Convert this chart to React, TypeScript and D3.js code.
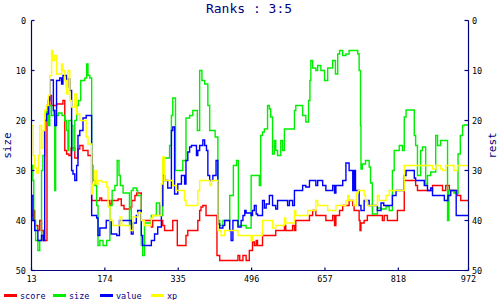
import React from "react";
import * as d3 from "d3";

const xTicks = [13, 174, 335, 496, 657, 818, 972];
const yTicks = [0, 10, 20, 30, 40, 50];
const seriesNames = ["score", "size", "value", "xp"];
const seriesColors = ["#ff0000", "#00ee00", "#0000ff", "#ffff00"];

const scoreData: [number, number][] = [[13,39],[17,38],[20,41],[27,42],[31,40],[35,42],[39,44],[47,17],[53,15],[57,17],[68,16.7],[82,16],[86,26],[90,26.7],[95,27],[100,25.5],[108,27.5],[115,25.7],[119,25],[126,26],[137,27],[145,36],[163,35.5],[167,36],[185,36.7],[189,36],[203,35.7],[210,37],[216,37.7],[229,37.3],[233,36],[240,35],[244,34.5],[254,40],[276,41.3],[279,40],[301,41],[305,42],[323,40],[333,45],[352,43],[356,42],[378,40],[382,38],[385,37.3],[389,37],[396,39],[420,47],[426,48],[466,47],[470,48],[477,47],[484,48],[491,46],[498,44.3],[502,45],[506,44],[509,45],[520,43],[549,42],[568,41],[571,42],[586,41],[590,42],[593,40],[623,39],[630,38],[637,39],[659,40],[674,39],[678,41],[681,39],[689,38],[696,37],[710,36],[718,37],[721,38],[732,40],[734,42],[736,40.5],[743,40],[750,39],[783,40],[787,39],[794,40],[816,38],[831,32],[856,33],[860,34],[893,33],[915,34],[922,33],[930,34],[948,35],[955,36],[972,36]];

const sizeData: [number, number][] = [[13,29],[16,32],[18,40],[22,44],[27,46],[31,44],[35,30],[38,27],[42,20],[46,18],[50,21],[53,17],[57,19],[62,18],[64,34],[66,19],[72,18.5],[80,19],[86,20],[90,22],[93,26],[95,20],[101,21],[104,26],[108,20],[112,17],[116,16],[121,12],[130,11.5],[134,8.7],[137,11],[141,11.5],[145,29],[148,32],[152,33],[156,37],[159,45],[163,44],[170,45],[178,44],[185,37],[190,34],[196,33],[201,28],[205,31],[208,33],[214,34.5],[222,34.5],[228,41],[232,34],[236,33.5],[244,34],[246,35],[254,45],[257,47],[261,40.5],[276,39],[287,36.5],[294,39],[301,27.5],[316,25],[320,19],[323,15.5],[329,30],[338,30],[345,28],[352,19.5],[360,19],[367,18],[377,22],[382,10],[387,12],[393,12.7],[400,17],[404,22],[416,23.3],[422,40],[426,41],[433,40],[448,35],[456,29],[463,28],[467,41],[484,41.5],[495,31],[513,33],[516,23],[520,22.3],[524,21.7],[531,17],[535,17.7],[538,19.3],[542,26.7],[546,24],[549,26],[553,27],[560,24],[564,26],[568,21.7],[590,18],[593,17],[608,19],[615,20.3],[621,16],[624,12],[626,8],[630,9.5],[637,10],[641,9],[648,10],[656,12],[663,9.5],[674,8],[680,10.7],[685,6.7],[689,6],[696,7],[703,6.7],[710,6],[729,6.7],[732,10],[735,21],[736,29.7],[739,28.7],[746,28],[754,29.3],[757,32.5],[761,38.7],[772,37.5],[780,37.7],[791,37.2],[798,38],[805,30],[809,26],[820,25],[827,26],[831,19.3],[835,17.9],[853,23],[856,25],[860,31],[867,26],[871,25.3],[878,32.7],[882,31],[889,30.3],[900,23],[904,25],[911,24],[926,40],[929,34],[940,34.5],[949,26.7],[954,23],[959,21],[963,20.9],[972,20.9]];

const valueData: [number, number][] = [[13,35],[16,40],[20,42],[27,44],[35,43],[39,44],[42,20],[46,18.7],[50,16],[53,11.9],[61,18],[64,21],[68,12],[75,11.5],[79,12.7],[82,11],[90,13.3],[93,11.7],[97,14],[101,30],[104,30.7],[108,32],[112,29],[115,23],[119,22],[126,19.5],[133,19],[145,39],[156,39.5],[159,43],[163,41.5],[177,40],[188,42.7],[200,43],[206,40],[228,40],[232,42.7],[236,40.5],[243,39],[246,38],[254,43],[257,45],[276,44],[283,42.7],[290,41.3],[298,37],[301,31],[305,32],[312,33.5],[320,22],[323,21.3],[327,34.7],[334,32.7],[342,31],[349,32.7],[352,28],[356,26.3],[360,25.3],[364,25],[375,27],[378,26],[382,25],[389,23.9],[393,25],[397,26],[400,31],[404,32],[411,31],[418,28],[422,40.7],[426,41.5],[433,41],[437,40],[448,42],[451,44],[455,40],[466,41.3],[473,40],[477,39],[481,38],[484,38.5],[495,39],[498,38],[502,37],[506,38.7],[509,39],[520,36],[524,37.5],[528,36.7],[535,35],[542,37],[549,37.7],[553,36],[575,37],[579,36],[586,37],[590,34],[608,33],[615,33.3],[623,32],[637,33],[641,32],[652,33],[659,34],[674,33],[678,34.5],[681,33],[696,32],[703,28.5],[710,30],[718,34],[721,30],[724,34],[732,37],[736,38],[743,36],[754,37],[765,37],[772,38],[780,36.5],[786,37],[805,35],[813,34],[831,31],[835,30],[853,31.5],[856,32],[875,33],[882,34],[889,33.5],[893,35],[919,36],[927,35],[933,34],[945,39],[972,39]];

const xpData: [number, number][] = [[13,21],[17,27],[20,29.5],[24,30.5],[28,27],[31,21],[35,25.5],[39,22],[42,18],[46,17],[50,15],[53,11],[57,6],[60,8],[64,7],[68,10.7],[79,8.7],[82,10],[86,12],[90,14.7],[93,10],[97,16],[101,17.3],[108,14.7],[112,18.7],[119,20],[133,23.3],[137,24.7],[145,34.7],[148,32.7],[152,30],[156,32.7],[159,32],[167,32.3],[178,33.3],[181,37.3],[185,40],[192,41],[207,39.3],[211,41],[229,42],[236,39.3],[246,38.5],[254,40],[261,41],[276,39.5],[279,39],[298,32.7],[301,27.3],[305,32],[323,33],[331,34],[349,36],[352,37],[378,34],[382,32],[404,33],[408,32],[422,42],[429,43],[437,42],[466,43],[495,44],[498,43],[520,40],[542,41.5],[549,41],[568,39.5],[571,40.5],[590,38],[593,39],[619,38],[637,36],[641,37],[663,38],[681,37],[703,36],[707,35],[710,36],[720,37],[726,34.5],[730,34],[743,35],[746,36],[750,37],[772,35],[776,36],[791,35],[798,34],[831,29],[893,29.7],[900,29],[911,29.7],[916,30],[922,29],[940,30],[948,29],[972,29]];

const allSeries = [scoreData, sizeData, valueData, xpData];

const W = 500, H = 300;
const left = 31.5, right = 468.5, top = 20.5, bottom = 270.5;
const axisColor = "#000080";
const mono = "'DejaVu Sans Mono', monospace";

export default function App() {
  const x = d3.scaleLinear().domain([13, 972]).range([left, right]);
  const y = d3.scaleLinear().domain([0, 50]).range([top, bottom]);
  const line = d3.line<[number, number]>()
    .x(d => x(d[0]))
    .y(d => y(d[1]))
    .curve(d3.curveStepAfter);

  const legendX = [4, 53, 100, 151];

  return (
    <svg width={W} height={H} style={{ position: "absolute", left: 0, top: 0, background: "#fff" }}>
      <rect x={0} y={0} width={W} height={H} fill="#fff" />
      <text x={249} y={13} textAnchor="middle" fontFamily={mono} fontSize={13} fill={axisColor}>Ranks : 3:5</text>

      {allSeries.map((s, i) => (
        <path key={i} d={line(s) || ""} fill="none" stroke={seriesColors[i]} strokeWidth={1.4} />
      ))}

      {/* axes */}
      <line x1={left} x2={left} y1={top} y2={bottom} stroke={axisColor} strokeWidth={1.2} />
      <line x1={right} x2={right} y1={top} y2={bottom} stroke={axisColor} strokeWidth={1.2} />
      <line x1={left} x2={right} y1={bottom} y2={bottom} stroke={axisColor} strokeWidth={1.2} />
      {yTicks.map(t => (
        <g key={"yl" + t}>
          <line x1={left} x2={left + 3} y1={y(t)} y2={y(t)} stroke={axisColor} strokeWidth={1.2} />
          <line x1={right - 4} x2={right} y1={y(t)} y2={y(t)} stroke={axisColor} strokeWidth={1.2} />
          <text x={26} y={y(t) + 3} textAnchor="end" fontFamily={mono} fontSize={8.5} fill="#000">{t}</text>
          <text x={472} y={y(t) + 3} textAnchor="start" fontFamily={mono} fontSize={8.5} fill="#000">{t}</text>
        </g>
      ))}
      {xTicks.map(t => (
        <g key={"xt" + t}>
          <line x1={x(t)} x2={x(t)} y1={bottom - 3} y2={bottom} stroke={axisColor} strokeWidth={1.2} />
          <text x={x(t)} y={282} textAnchor="middle" fontFamily={mono} fontSize={8.5} fill="#000">{t}</text>
        </g>
      ))}
      <text transform={`translate(11,${(top + bottom) / 2}) rotate(-90)`} textAnchor="middle" fontFamily={mono} fontSize={11} fill={axisColor}>size</text>
      <text transform={`translate(496,${(top + bottom) / 2}) rotate(-90)`} textAnchor="middle" fontFamily={mono} fontSize={11} fill={axisColor}>rest</text>

      {seriesNames.map((n, i) => (
        <g key={n}>
          <line x1={legendX[i]} x2={legendX[i] + 13} y1={295.5} y2={295.5} stroke={seriesColors[i]} strokeWidth={3} />
          <text x={legendX[i] + 16} y={298.5} fontFamily={mono} fontSize={8.5} fill={axisColor}>{n}</text>
        </g>
      ))}
    </svg>
  );
}
